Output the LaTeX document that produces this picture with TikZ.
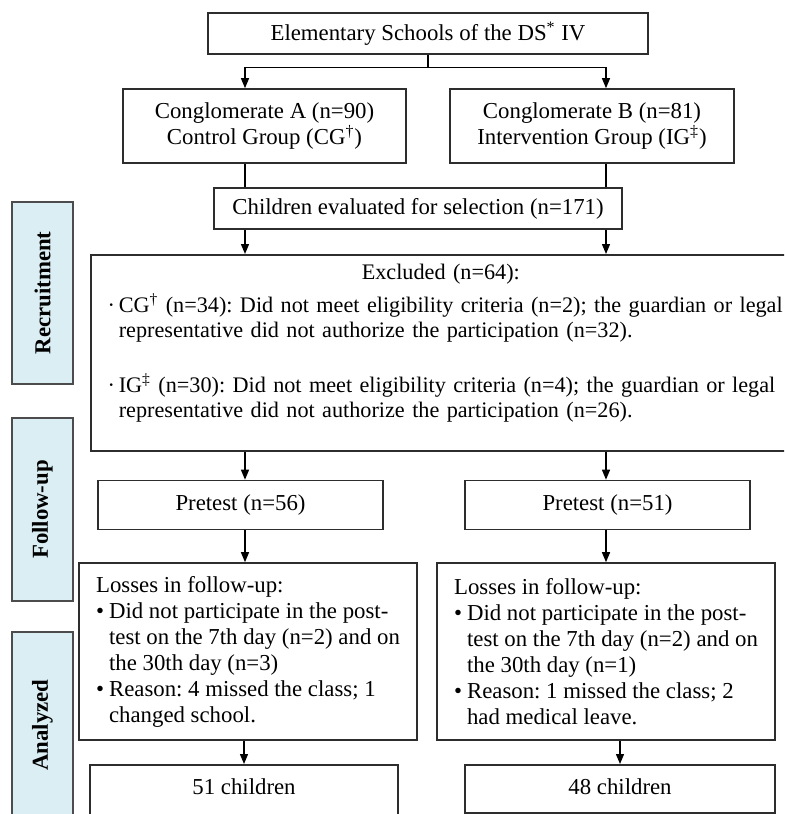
\documentclass[tikz,border=0pt]{standalone}
\usepackage{fontspec}
\setmainfont{Liberation Serif}
\usetikzlibrary{arrows.meta}

\definecolor{sidefill}{RGB}{219,238,244}
\definecolor{boxline}{RGB}{45,45,45}

\begin{document}
\frenchspacing
\begin{tikzpicture}[x=0.5pt, y=-0.5pt,
  box/.style={draw=boxline, line width=0.8pt, fill=white, align=center, inner sep=0pt,
    font=\fontsize{11.4}{13}\selectfont},
  side/.style={draw=boxline!85, line width=0.8pt, fill=sidefill, rotate=90, inner sep=0pt,
    minimum height=30.5pt, font=\fontsize{11.4}{13}\selectfont\bfseries},
  ln/.style={draw=black, line width=0.65pt},
  arr/.style={ln, -{Triangle[length=5pt,width=4pt]}}]

\useasboundingbox (0,0) rectangle (784,814);
\clip (0,0) rectangle (784,814);

\coordinate (colL) at (245,0);
\coordinate (colR) at (606,0);

% -------- side bars -----------
\node[side, minimum width=91pt]   (recr)   at (42.5,293)   {Recruitment};
\node[side, minimum width=91.5pt] (follow) at (42.5,509.5) {Follow-up};
\node[side, minimum width=93pt]   (anal)   at (42.5,725)   {Analyzed};

% -------- boxes -----------
\node[box, minimum width=220pt, minimum height=20.5pt] (schools) at (428,33.5)
  {Elementary Schools of the DS\textsuperscript{*} IV};
\node[box, minimum width=141.5pt, minimum height=37pt] (congA) at (264.5,126)
  {Conglomerate A (n=90)\\Control Group (CG\textsuperscript{\dag})};
\node[box, minimum width=142pt, minimum height=37pt] (congB) at (592,126)
  {Conglomerate B (n=81)\\Intervention Group (IG\textsuperscript{\ddag})};
\node[box, minimum width=204pt, minimum height=20.5pt] (eval) at (418,208.5)
  {Children evaluated for selection (n=171)};

\node[box, anchor=north west, align=left, text width=380pt, inner xsep=14pt,
  text height=12.5pt, text depth=85.5pt, font=\fontsize{11.1}{12.5}\selectfont] (excl) at (90,254)
  {\makebox[322pt]{Excluded (n=64):}\par\vspace{4pt}
   \leavevmode\llap{·\,}CG\textsuperscript{\dag} (n=34): Did not meet eligibility criteria (n=2); the guardian or legal\\
   representative did not authorize the participation (n=32).\par\vspace{15pt}
   \leavevmode\llap{·\,}IG\textsuperscript{\ddag} (n=30): Did not meet eligibility criteria (n=4); the guardian or legal\\
   representative did not authorize the participation (n=26).};

\node[box, minimum width=142.5pt, minimum height=24.5pt] (preA) at (240.5,505) {Pretest (n=56)};
\node[box, minimum width=142.5pt, minimum height=24.5pt] (preB) at (607.5,505) {Pretest (n=51)};

\node[box, align=left, minimum width=169pt, minimum height=88.5pt] (lossA) at (248,651.5)
  {Losses in follow-up:\\
   \makebox[6.5pt][l]{\textbullet}Did not participate in the post-\\
   \hspace*{6.5pt}test on the 7th day (n=2) and on\\
   \hspace*{6.5pt}the 30th day (n=3)\\
   \makebox[6.5pt][l]{\textbullet}Reason: 4 missed the class; 1\\
   \hspace*{6.5pt}changed school.};
\node[box, align=left, minimum width=169pt, minimum height=88.5pt] (lossB) at (606,651.5)
  {Losses in follow-up:\\
   \makebox[6.5pt][l]{\textbullet}Did not participate in the post-\\
   \hspace*{6.5pt}test on the 7th day (n=2) and on\\
   \hspace*{6.5pt}the 30th day (n=1)\\
   \makebox[6.5pt][l]{\textbullet}Reason: 1 missed the class; 2\\
   \hspace*{6.5pt}had medical leave.};

\node[box, anchor=north, minimum width=154pt, text height=15pt, text depth=18pt] (chA) at (244,764) {51 children};
\node[box, anchor=north, minimum width=155pt, text height=15pt, text depth=9pt] (chB) at (620,764) {48 children};

% -------- connectors -----------
\draw[ln] (schools.south) -- ++(0,13) coordinate (split);
\draw[arr] (split) -| (congA.north -| colL);
\draw[arr] (split) -| (congB.north -| colR);
\draw[ln] (congA.south -| colL) -- (eval.north -| colL);
\draw[ln] (congB.south -| colR) -- (eval.north -| colR);
\draw[arr] (eval.south -| colL) -- (excl.north -| colL);
\draw[arr] (eval.south -| colR) -- (excl.north -| colR);
\draw[arr] (excl.south -| colL) -- (preA.north -| colL);
\draw[arr] (excl.south -| colR) -- (preB.north -| colR);
\draw[arr] (preA.south -| colL) -- (lossA.north -| colL);
\draw[arr] (preB.south -| colR) -- (lossB.north -| colR);
\draw[arr] (lossA.south -| chA.north) -- (chA.north);
\draw[arr] (lossB.south -| chB.north) -- (chB.north);

\end{tikzpicture}
\end{document}
